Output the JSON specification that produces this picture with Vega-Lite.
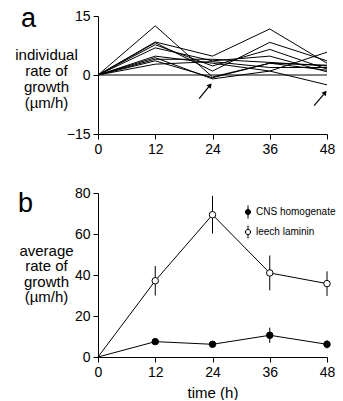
{
  "$schema": "https://vega.github.io/schema/vega-lite/v6.json",
  "background": "white",
  "padding": {"left": 14, "top": 5, "right": 0, "bottom": 0},
  "spacing": 30,
  "resolve": {"legend": {"fill": "independent"}},
  "config": {
    "font": "Liberation Sans",
    "view": {"stroke": null},
    "axis": {
      "labelFont": "Liberation Sans", "titleFont": "Liberation Sans",
      "labelFontSize": 14, "labelColor": "black", "domainColor": "black",
      "tickColor": "black", "grid": false, "titleFontWeight": "normal",
      "titleColor": "black", "titleFontSize": 15, "labelFlush": false,
      "labelOverlap": false, "tickSize": 5, "labelPadding": 3, "domainWidth": 1, "tickWidth": 1
    },
    "title": {"font": "Liberation Sans", "fontWeight": "normal", "fontSize": 27, "color": "black"}
  },
  "vconcat": [
    {
      "width": 229,
      "height": 118,
      "title": {"text": "a", "anchor": "start", "frame": "group", "dx": -77, "offset": -24},
      "layer": [
        {
          "data": {"values": [{"y": 0}]},
          "mark": {"type": "rule", "color": "#808080", "strokeWidth": 2},
          "encoding": {"y": {"field": "y", "type": "quantitative", "scale": {"domain": [-15, 15]}}}
        },
        {
          "data": {"values": [
            {"id": 1, "t": 0, "v": 0}, {"id": 1, "t": 12, "v": 12.5}, {"id": 1, "t": 24, "v": -0.5}, {"id": 1, "t": 36, "v": 3}, {"id": 1, "t": 48, "v": 2.5},
            {"id": 2, "t": 0, "v": 0}, {"id": 2, "t": 12, "v": 8.4}, {"id": 2, "t": 24, "v": 4.8}, {"id": 2, "t": 36, "v": 11.7}, {"id": 2, "t": 48, "v": 3},
            {"id": 3, "t": 0, "v": 0}, {"id": 3, "t": 12, "v": 8.2}, {"id": 3, "t": 24, "v": 1}, {"id": 3, "t": 36, "v": 8.3}, {"id": 3, "t": 48, "v": 3.6},
            {"id": 4, "t": 0, "v": 0}, {"id": 4, "t": 12, "v": 7.7}, {"id": 4, "t": 24, "v": 2.3}, {"id": 4, "t": 36, "v": 6.5}, {"id": 4, "t": 48, "v": 1.5},
            {"id": 5, "t": 0, "v": 0}, {"id": 5, "t": 12, "v": 6.9}, {"id": 5, "t": 24, "v": 3.6}, {"id": 5, "t": 36, "v": 4.8}, {"id": 5, "t": 48, "v": 0.8},
            {"id": 6, "t": 0, "v": 0}, {"id": 6, "t": 12, "v": 4.8}, {"id": 6, "t": 24, "v": 3}, {"id": 6, "t": 36, "v": 1}, {"id": 6, "t": 48, "v": -2.5},
            {"id": 7, "t": 0, "v": 0}, {"id": 7, "t": 12, "v": 4.4}, {"id": 7, "t": 24, "v": -1}, {"id": 7, "t": 36, "v": 1}, {"id": 7, "t": 48, "v": 5.8},
            {"id": 8, "t": 0, "v": 0}, {"id": 8, "t": 12, "v": 4}, {"id": 8, "t": 24, "v": 4}, {"id": 8, "t": 36, "v": 3.2}, {"id": 8, "t": 48, "v": 2.3},
            {"id": 9, "t": 0, "v": 0}, {"id": 9, "t": 12, "v": 2.75}, {"id": 9, "t": 24, "v": 3.4}, {"id": 9, "t": 36, "v": 1.9}, {"id": 9, "t": 48, "v": 1.9},
            {"id": 10, "t": 0, "v": 0}, {"id": 10, "t": 12, "v": 3.6}, {"id": 10, "t": 24, "v": -0.7}, {"id": 10, "t": 36, "v": 3}, {"id": 10, "t": 48, "v": 1.2}
          ]},
          "mark": {"type": "line", "color": "black", "strokeWidth": 1},
          "encoding": {
            "x": {"field": "t", "type": "quantitative", "scale": {"domain": [0, 48], "nice": false},
                  "axis": {"values": [0, 12, 24, 36, 48], "title": null}},
            "y": {"field": "v", "type": "quantitative", "scale": {"domain": [-15, 15], "nice": false},
                  "axis": {"values": [-15, 0, 15],
                           "title": ["individual", "rate of", "growth", "(µm/h)"],
                           "titleAngle": 0, "titleAlign": "center", "titleBaseline": "top",
                           "titleX": -52, "titleY": 31, "titleLineHeight": 16}},
            "detail": {"field": "id", "type": "nominal"}
          }
        },
        {
          "data": {"values": [
            {"x": 21.2, "y": -6, "x2": 23.2, "y2": -3},
            {"x": 45.3, "y": -7.8, "x2": 47.3, "y2": -4.9}
          ]},
          "mark": {"type": "rule", "color": "black", "strokeWidth": 1.2},
          "encoding": {
            "x": {"field": "x", "type": "quantitative"},
            "y": {"field": "y", "type": "quantitative"},
            "x2": {"field": "x2"},
            "y2": {"field": "y2"}
          }
        },
        {
          "data": {"values": [
            {"x": 23.5, "y": -2.6},
            {"x": 47.6, "y": -4.5}
          ]},
          "mark": {"type": "point", "shape": "triangle-up", "filled": true, "color": "black", "size": 30, "angle": 39, "opacity": 1},
          "encoding": {
            "x": {"field": "x", "type": "quantitative"},
            "y": {"field": "y", "type": "quantitative"}
          }
        }
      ]
    },
    {
      "width": 229,
      "height": 164,
      "title": {"text": "b", "anchor": "start", "frame": "group", "dx": -80, "offset": -32},
      "data": {"values": [
        {"series": "CNS homogenate", "time": 0, "value": 0, "lo": 0, "hi": 0},
        {"series": "CNS homogenate", "time": 12, "value": 7.5, "lo": 6.3, "hi": 8.7},
        {"series": "CNS homogenate", "time": 24, "value": 6.2, "lo": 5, "hi": 7.4},
        {"series": "CNS homogenate", "time": 36, "value": 10.6, "lo": 6.9, "hi": 14.3},
        {"series": "CNS homogenate", "time": 48, "value": 6.2, "lo": 4.2, "hi": 8.2},
        {"series": "leech laminin", "time": 0, "value": 0, "lo": 0, "hi": 0},
        {"series": "leech laminin", "time": 12, "value": 37.2, "lo": 30, "hi": 44.4},
        {"series": "leech laminin", "time": 24, "value": 69.4, "lo": 60.2, "hi": 78.6},
        {"series": "leech laminin", "time": 36, "value": 41, "lo": 32.5, "hi": 49.5},
        {"series": "leech laminin", "time": 48, "value": 35.8, "lo": 29.8, "hi": 41.8}
      ]},
      "layer": [
        {
          "mark": {"type": "line", "color": "black", "strokeWidth": 1},
          "encoding": {
            "x": {"field": "time", "type": "quantitative", "scale": {"domain": [0, 48], "nice": false},
                  "axis": {"values": [0, 12, 24, 36, 48], "title": "time (h)", "titlePadding": 6}},
            "y": {"field": "value", "type": "quantitative", "scale": {"domain": [0, 80], "nice": false},
                  "axis": {"values": [0, 10, 20, 30, 40, 50, 60, 70, 80],
                           "labelExpr": "datum.value % 20 == 0 ? datum.label : ''",
                           "title": ["average", "rate of", "growth", "(µm/h)"],
                           "titleAngle": 0, "titleAlign": "center", "titleBaseline": "top",
                           "titleX": -52, "titleY": 50, "titleLineHeight": 15.5}},
            "detail": {"field": "series", "type": "nominal"}
          }
        },
        {
          "transform": [{"filter": "datum.time > 0"}],
          "mark": {"type": "rule", "color": "black", "strokeWidth": 1},
          "encoding": {
            "x": {"field": "time", "type": "quantitative"},
            "y": {"field": "lo", "type": "quantitative"},
            "y2": {"field": "hi"}
          }
        },
        {
          "transform": [{"filter": "datum.time > 0"}],
          "mark": {"type": "point", "shape": "circle", "stroke": "black", "strokeWidth": 1, "size": 42, "opacity": 1, "filled": true},
          "encoding": {
            "x": {"field": "time", "type": "quantitative"},
            "y": {"field": "value", "type": "quantitative"},
            "fill": {"field": "series", "type": "nominal",
                     "scale": {"domain": ["CNS homogenate", "leech laminin"], "range": ["black", "white"]},
                     "legend": {"title": null, "orient": "none", "legendX": 143, "legendY": 12,
                                "symbolType": "M-0.4,0A0.4,0.4,0,1,1,0.4,0A0.4,0.4,0,1,1,-0.4,0ZM0,-1L0,-0.4M0,0.4L0,1",
                                "symbolSize": 169, "symbolStrokeColor": "black", "symbolStrokeWidth": 1,
                                "symbolOpacity": 1,
                                "labelFont": "Liberation Sans", "labelFontSize": 10, "labelColor": "black",
                                "labelOffset": 1, "rowPadding": 2, "padding": 0}}
          }
        }
      ]
    }
  ]
}
